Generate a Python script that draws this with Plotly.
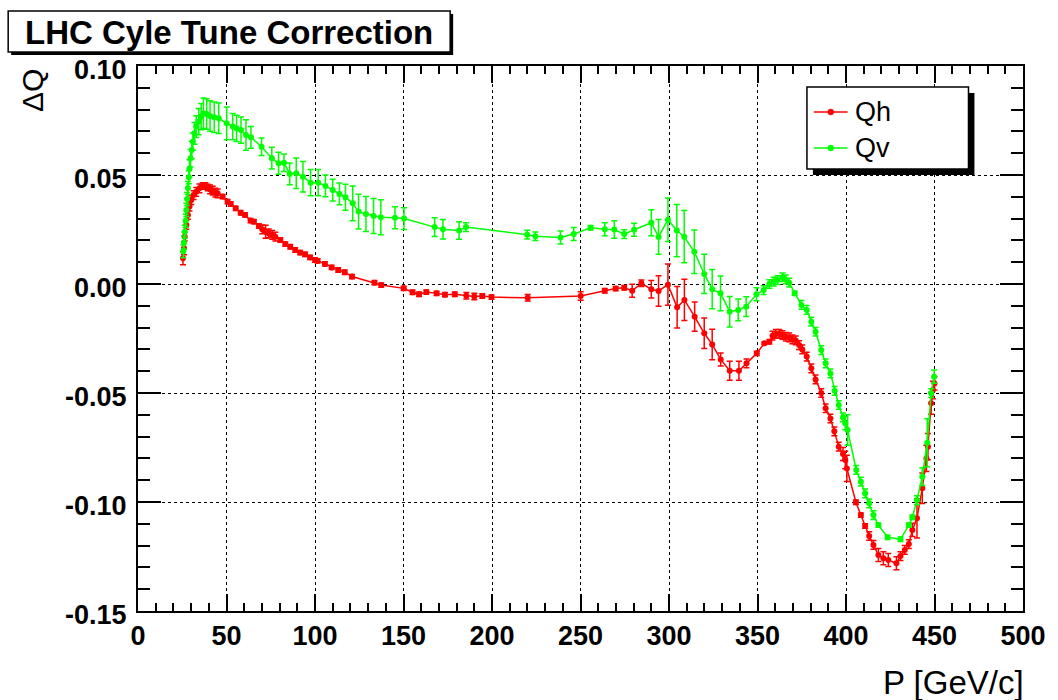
import plotly.graph_objects as go

# ---------------- data ----------------
qh_x = [25.4, 26.0, 26.4, 27.3, 28.2, 29.1, 30.1, 31.4, 32.9, 34.7, 36.6, 38.1, 39.4, 40.7, 42.2,
        43.7, 45.0, 47.8, 50.6, 52.4, 55.2, 58.0, 60.5, 63.6, 65.5, 68.3, 70.2, 72.1, 73.9, 75.8,
        77.6, 80.4, 83.2, 86.0, 88.8, 91.6, 94.4, 97.2, 100.0, 101.5, 105.6, 109.4, 113.1, 116.8,
        120.9, 133.6, 137.4, 150.1, 155.1, 158.8, 162.9, 168.7, 173.4, 179.0, 185.5, 190.0, 194.5,
        199.7, 220.2, 250.1, 263.7, 269.9, 274.7, 279.2, 284.4, 290.0, 294.1, 299.4, 304.6, 308.7,
        314.5, 319.9, 324.4, 329.2, 334.3, 339.5, 343.8, 349.6, 353.9, 356.7, 358.5, 360.4, 362.3,
        364.1, 366.0, 367.9, 369.7, 371.6, 373.5, 375.3, 377.8, 380.4, 382.8, 386.0, 388.5, 391.2,
        393.4, 395.9, 398.3, 399.6, 400.5, 405.6, 408.4, 410.8, 413.1, 415.5, 418.3, 421.1, 423.9,
        428.5, 430.8, 433.2, 435.5, 437.5, 440.1, 443.1, 445.4, 446.3, 448.1, 449.1, 450.0]
qh_y = [0.0118, 0.0164, 0.0217, 0.0271, 0.0317, 0.0355, 0.0385, 0.0408, 0.0423, 0.0439, 0.0450,
        0.0450, 0.0443, 0.0434, 0.0428, 0.0419, 0.0416, 0.0401, 0.0378, 0.0367, 0.0347, 0.0327,
        0.0317, 0.0291, 0.0286, 0.0266, 0.0251, 0.0240, 0.0232, 0.0225, 0.0217, 0.0202, 0.0183,
        0.0171, 0.0156, 0.0144, 0.0136, 0.0122, 0.0110, 0.0106, 0.0092, 0.0076, 0.0064, 0.0054,
        0.0034, 0.0006, -0.0005, -0.0020, -0.0038, -0.0047, -0.0037, -0.0043, -0.0049, -0.0047,
        -0.0054, -0.0057, -0.0055, -0.0060, -0.0063, -0.0055, -0.0031, -0.0021, -0.0017, -0.0031,
        0.0003, -0.0024, -0.0032, -0.0003, -0.0107, -0.0073, -0.0150, -0.0226, -0.0277, -0.0346,
        -0.0398, -0.0398, -0.0364, -0.0318, -0.0272, -0.0265, -0.0237, -0.0229, -0.0229, -0.0234,
        -0.0242, -0.0245, -0.0254, -0.0259, -0.0280, -0.0300, -0.0333, -0.0387, -0.0438, -0.0500,
        -0.0570, -0.0617, -0.0676, -0.0746, -0.0780, -0.0807, -0.0846, -0.1001, -0.1060, -0.1110,
        -0.1156, -0.1197, -0.1243, -0.1258, -0.1266, -0.1281, -0.1248, -0.1220, -0.1193, -0.1128,
        -0.1075, -0.0937, -0.0800, -0.0746, -0.0547, -0.0486, -0.0456]
qh_err = [0.003, 0.003, 0.002, 0.002, 0.002, 0.002, 0.002, 0.002, 0.002, 0.002, 0.0015, 0.0015,
          0.0015, 0.002, 0.002, 0.002, 0.002, 0.001, 0.001, 0.001, 0.001, 0.001, 0.001, 0.001,
          0.001, 0.001, 0.002, 0.003, 0.002, 0.002, 0.002, 0.001, 0.001, 0.001, 0.001, 0.001,
          0.001, 0.001, 0.001, 0.001, 0.001, 0.001, 0.001, 0.001, 0.001, 0.001, 0.001, 0.001,
          0.001, 0.001, 0.001, 0.001, 0.001, 0.001, 0.0015, 0.0015, 0.001, 0.001, 0.0015, 0.002,
          0.001, 0.001, 0.001, 0.003, 0.0015, 0.004, 0.007, 0.0095, 0.0095, 0.0095, 0.0067, 0.007,
          0.007, 0.003, 0.0044, 0.0044, 0.002, 0.001, 0.0005, 0.001, 0.002, 0.002, 0.002, 0.002,
          0.002, 0.002, 0.002, 0.002, 0.002, 0.002, 0.002, 0.002, 0.002, 0.002, 0.002, 0.002,
          0.002, 0.002, 0.003, 0.004, 0.006, 0.001, 0.001, 0.001, 0.002, 0.002, 0.003, 0.003,
          0.003, 0.003, 0.002, 0.002, 0.002, 0.003, 0.009, 0.007, 0.006, 0.006, 0.005, 0.004, 0.003]

qv_x = [25.6, 26.0, 26.4, 26.9, 27.3, 27.7, 28.2, 28.7, 29.1, 29.7, 30.4, 31.0, 31.9, 32.9, 34.3,
        35.7, 37.0, 38.8, 40.7, 43.1, 45.6, 50.1, 53.5, 55.7, 58.2, 61.0, 63.8, 69.8, 75.6, 79.4,
        82.5, 85.7, 89.4, 93.2, 97.5, 101.8, 105.9, 110.0, 113.8, 117.2, 121.3, 124.6, 128.8,
        133.1, 137.2, 145.2, 150.3, 167.6, 172.3, 181.4, 185.3, 219.9, 224.5, 238.7, 246.2, 255.7,
        263.7, 269.1, 274.7, 280.3, 290.0, 294.1, 299.4, 304.4, 308.6, 314.3, 319.9, 324.4, 329.1,
        334.3, 339.1, 343.6, 349.4, 353.5, 356.7, 359.1, 361.3, 364.1, 366.0, 367.9, 371.0, 374.8,
        377.8, 380.4, 382.8, 386.0, 388.5, 391.2, 393.6, 395.9, 398.3, 399.6, 400.9, 405.8, 408.4,
        410.8, 413.1, 415.5, 418.3, 423.5, 430.8, 435.5, 437.5, 440.1, 443.1, 445.9, 448.1, 449.8]
qv_y = [0.0150, 0.0190, 0.0240, 0.0290, 0.0340, 0.0390, 0.0440, 0.0490, 0.0530, 0.0577, 0.0615,
        0.0653, 0.0691, 0.0722, 0.0745, 0.0768, 0.0783, 0.0780, 0.0771, 0.0765, 0.0760, 0.0737,
        0.0722, 0.0714, 0.0706, 0.0683, 0.0673, 0.0630, 0.0577, 0.0554, 0.0556, 0.0505, 0.0508,
        0.0492, 0.0465, 0.0465, 0.0450, 0.0431, 0.0413, 0.0398, 0.0370, 0.0332, 0.0321, 0.0312,
        0.0306, 0.0304, 0.0300, 0.0261, 0.0251, 0.0245, 0.0261, 0.0226, 0.0219, 0.0213, 0.0229,
        0.0258, 0.0251, 0.0250, 0.0229, 0.0249, 0.0281, 0.0216, 0.0295, 0.0245, 0.0217, 0.0148,
        0.0046, -0.0024, -0.0043, -0.0127, -0.0119, -0.0104, -0.0047, -0.0028, 0.0000, 0.0011,
        0.0018, 0.0031, 0.0021, 0.0006, -0.0043, -0.0096, -0.0119, -0.0173, -0.0219, -0.0303,
        -0.0364, -0.0410, -0.0490, -0.0555, -0.0612, -0.0639, -0.0670, -0.0853, -0.0907, -0.0960,
        -0.1006, -0.1060, -0.1106, -0.1162, -0.1171, -0.1106, -0.1070, -0.0991, -0.0884, -0.0728,
        -0.0501, -0.0425]
qv_err = [0.003, 0.003, 0.003, 0.003, 0.003, 0.003, 0.003, 0.003, 0.004, 0.004, 0.004, 0.004,
          0.005, 0.005, 0.006, 0.006, 0.007, 0.007, 0.007, 0.007, 0.007, 0.0075, 0.006, 0.006,
          0.006, 0.007, 0.005, 0.004, 0.005, 0.005, 0.004, 0.005, 0.007, 0.007, 0.006, 0.006,
          0.005, 0.005, 0.005, 0.006, 0.008, 0.008, 0.008, 0.008, 0.008, 0.005, 0.005, 0.0043,
          0.0045, 0.004, 0.002, 0.002, 0.002, 0.003, 0.003, 0.001, 0.003, 0.004, 0.002, 0.003,
          0.006, 0.008, 0.010, 0.012, 0.012, 0.010, 0.009, 0.009, 0.008, 0.007, 0.005, 0.0045,
          0.003, 0.002, 0.002, 0.002, 0.002, 0.002, 0.002, 0.002, 0.001, 0.002, 0.002, 0.002,
          0.002, 0.002, 0.002, 0.002, 0.002, 0.002, 0.002, 0.003, 0.007, 0.002, 0.002, 0.002,
          0.002, 0.002, 0.001, 0.001, 0.001, 0.001, 0.001, 0.002, 0.004, 0.011, 0.002, 0.003]

x_ticks = [0, 50, 100, 150, 200, 250, 300, 350, 400, 450, 500]
y_ticks = [-0.15, -0.10, -0.05, 0.00, 0.05, 0.10]
y_tick_text = ["-0.15", "-0.10", "-0.05", "0.00", "0.05", "0.10"]

title_text = "LHC Cyle Tune Correction"
x_title = "P [GeV/c]"
y_title = "\u0394Q"
series_names = ["Qh", "Qv"]
RED = "#ff0000"
GREEN = "#00ff00"

# ---------------- layout geometry ----------------
W, H = 1058, 700
L, R, T, B = 138, 27, 66, 89
PW, PH = W - L - R, H - T - B


def px(xp):
    return (xp - L) / PW


def py(yp):
    return (H - B - yp) / PH


FONT = "Liberation Sans, Arial, Helvetica, sans-serif"

fig = go.Figure()


def add_series(x, y, e, color, name):
    fig.add_trace(go.Scatter(
        x=x, y=y, mode="lines+markers", name=name,
        line=dict(color=color, width=1.5),
        marker=dict(color=color, size=6),
        error_y=dict(type="data", array=e, visible=True, color=color,
                     thickness=1.5, width=3),
        showlegend=False,
    ))


add_series(qh_x, qh_y, qh_err, RED, series_names[0])
add_series(qv_x, qv_y, qv_err, GREEN, series_names[1])

shapes = []
annotations = []

# title box with shadow
shapes.append(dict(type="rect", xref="paper", yref="paper", layer="above",
                   x0=px(10), x1=px(456), y0=py(14), y1=py(55),
                   fillcolor="black", line=dict(width=0)))
shapes.append(dict(type="rect", xref="paper", yref="paper", layer="above",
                   x0=px(7), x1=px(453), y0=py(11), y1=py(52),
                   fillcolor="white", line=dict(color="black", width=1.5)))
annotations.append(dict(text="<b>%s</b>" % title_text, xref="paper", yref="paper",
                        x=px(230), y=py(32), xanchor="center", yanchor="middle",
                        showarrow=False, font=dict(family=FONT, size=33, color="black")))

# legend box with shadow
shapes.append(dict(type="rect", xref="paper", yref="paper", layer="above",
                   x0=px(819), x1=px(982), y0=py(93), y1=py(175),
                   fillcolor="black", line=dict(width=0)))
shapes.append(dict(type="rect", xref="paper", yref="paper", layer="above",
                   x0=px(813), x1=px(976), y0=py(87), y1=py(169),
                   fillcolor="white", line=dict(color="black", width=1.5)))
for name, color, ly in [(series_names[0], RED, 112), (series_names[1], GREEN, 148)]:
    shapes.append(dict(type="line", xref="paper", yref="paper", layer="above",
                       x0=px(820), x1=px(854), y0=py(ly), y1=py(ly),
                       line=dict(color=color, width=1.5)))
    shapes.append(dict(type="circle", xref="paper", yref="paper", layer="above",
                       x0=px(834), x1=px(840), y0=py(ly - 3), y1=py(ly + 3),
                       fillcolor=color, line=dict(color=color, width=0.5)))
    annotations.append(dict(text=name, xref="paper", yref="paper",
                            x=px(859), y=py(ly), xanchor="left", yanchor="middle",
                            showarrow=False, font=dict(family=FONT, size=27, color="black")))

# axis titles
annotations.append(dict(text=x_title, xref="paper", yref="paper",
                        x=px(1034), y=py(682), xanchor="right", yanchor="middle",
                        showarrow=False, font=dict(family=FONT, size=33, color="black")))
annotations.append(dict(text=y_title, xref="paper", yref="paper", textangle=-90,
                        x=px(31), y=py(90), xanchor="center", yanchor="middle",
                        showarrow=False, font=dict(family=FONT, size=30, color="black")))

fig.update_layout(
    width=W, height=H,
    margin=dict(l=L, r=R, t=T, b=B, pad=0),
    paper_bgcolor="white", plot_bgcolor="white",
    font=dict(family=FONT, color="black"),
    shapes=shapes, annotations=annotations,
    showlegend=False,
)

fig.update_xaxes(
    range=[0, 500], tickmode="array", tickvals=x_ticks,
    ticktext=["<b>%d</b>" % v for v in x_ticks],
    tickfont=dict(family=FONT, size=27, color="black"),
    ticks="inside", ticklen=17, tickwidth=1.5, tickcolor="black",
    minor=dict(dtick=10, ticks="inside", ticklen=8, tickwidth=1.5, tickcolor="black",
               showgrid=False),
    showline=True, linecolor="black", linewidth=2, mirror="allticks",
    showgrid=True, gridcolor="black", griddash="dot", gridwidth=1,
    zeroline=False,
)
fig.update_yaxes(
    range=[-0.15, 0.10], tickmode="array", tickvals=y_ticks,
    ticktext=["<b>%s</b>" % t for t in y_tick_text],
    tickfont=dict(family=FONT, size=27, color="black"),
    ticks="inside", ticklen=23, tickwidth=1.5, tickcolor="black",
    ticklabelstandoff=4, ticklabelshift=4,
    minor=dict(dtick=0.01, tick0=0, ticks="inside", ticklen=12, tickwidth=1.5,
               tickcolor="black", showgrid=False),
    showline=True, linecolor="black", linewidth=2, mirror="allticks",
    showgrid=True, gridcolor="black", griddash="dot", gridwidth=1,
    zeroline=False,
)

fig.write_html("out.html")
